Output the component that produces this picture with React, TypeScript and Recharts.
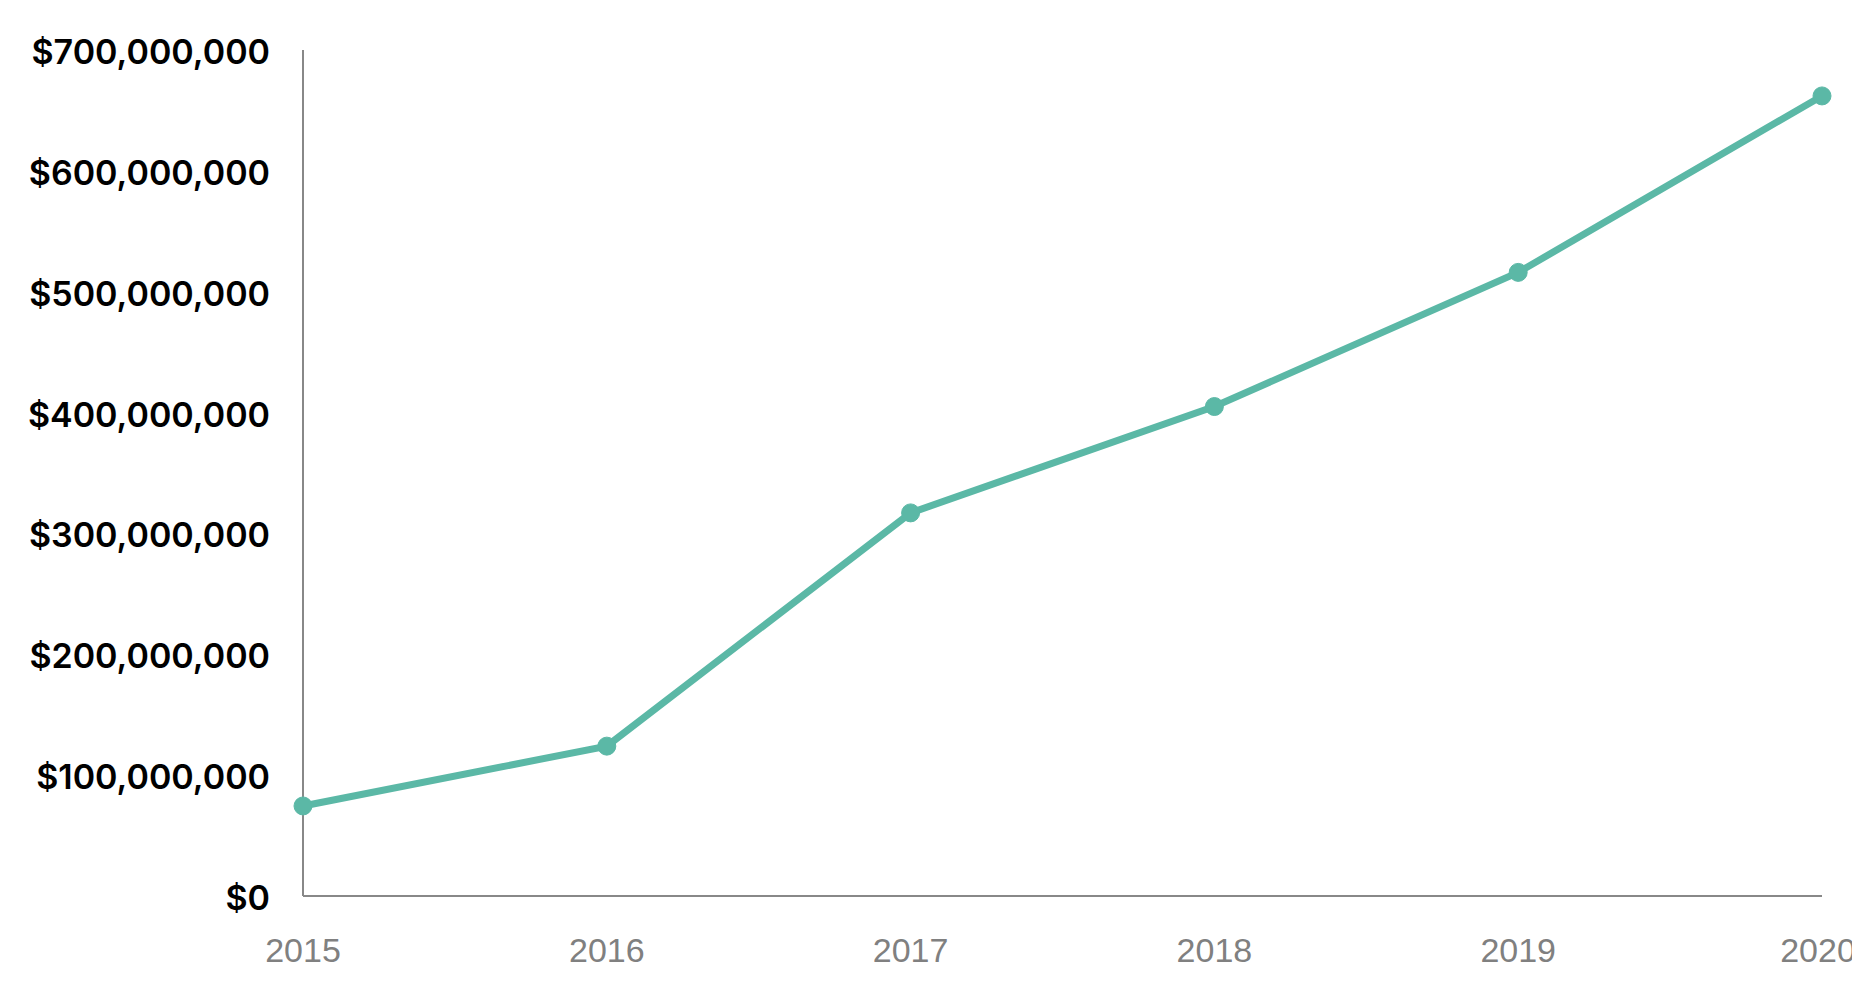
import { LineChart, Line, XAxis, YAxis } from 'recharts';

const years = ['2015', '2016', '2017', '2018', '2019', '2020'];
const revenue = [74500000, 124000000, 317000000, 405000000, 516000000, 662000000];
const yTicks = [0, 100000000, 200000000, 300000000, 400000000, 500000000, 600000000, 700000000];

const data = years.map((year, i) => ({ year, value: revenue[i] }));

const formatDollars = (v: number) => '$' + v.toLocaleString('en-US');

export default function App() {
  return (
    <LineChart
      width={1844}
      height={978}
      data={data}
      margin={{ top: 42, right: 30, bottom: 30, left: 0 }}
    >
      <XAxis
        dataKey="year"
        stroke="#888888"
        strokeWidth={2}
        tickLine={false}
        tickSize={0}
        tickMargin={42}
        height={60}
        tick={{ fill: '#808080', fontSize: 34, fontFamily: '"Liberation Sans", Arial, sans-serif' }}
      />
      <YAxis
        domain={[0, 700000000]}
        ticks={yTicks}
        tickFormatter={formatDollars}
        width={295}
        stroke="#888888"
        strokeWidth={2}
        tickLine={false}
        tickSize={0}
        tickMargin={33}
        tick={{ fill: '#000000', fontSize: 34, fontWeight: 600, fontFamily: 'Inter, sans-serif', dy: 2 }}
      />
      <Line
        type="linear"
        dataKey="value"
        stroke="#5bb8a6"
        strokeWidth={7}
        dot={{ r: 9, fill: '#5bb8a6', stroke: '#5bb8a6', strokeWidth: 1 }}
        activeDot={false}
        isAnimationActive={false}
      />
    </LineChart>
  );
}
